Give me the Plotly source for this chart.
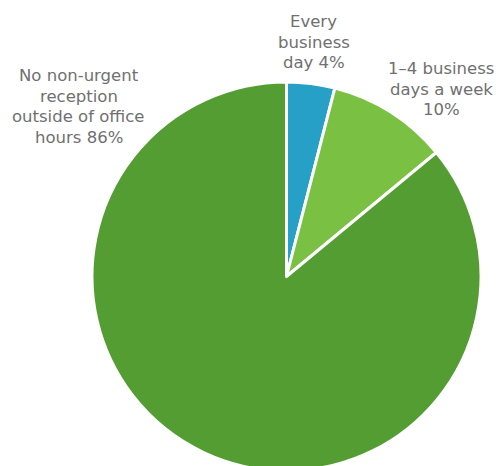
import plotly.graph_objects as go

# Share of practices by frequency of non-urgent reception outside office hours
categories = ["Every business day", "1–4 business days a week", "No non-urgent reception outside of office hours"]
values = [4, 10, 86]
colors = ["#27a0c8", "#7ac143", "#539d32"]

# caption lines per slice ({v} is replaced by the slice value)
caption_lines = [
    ["Every", "business", "day {v}%"],
    ["1–4 business", "days a week", "{v}%"],
    ["No non-urgent", "reception", "outside of office", "hours {v}%"],
]
# caption block centres, in pixels from the top-left of the figure
caption_cx = [313.5, 441, 78.5]
caption_cy = [42.5, 89, 106.5]
LINE_PX = 20.5

W, H = 499, 472

fig = go.Figure(
    go.Pie(
        labels=categories,
        values=values,
        sort=False,
        direction="clockwise",
        rotation=0,
        textinfo="none",
        hoverinfo="label+percent",
        marker=dict(colors=colors, line=dict(color="white", width=3)),
        domain=dict(x=[92 / W, 481 / W], y=[1 - 471 / H, 1 - 82 / H]),
        showlegend=False,
    )
)

for lines, v, cx, cy in zip(caption_lines, values, caption_cx, caption_cy):
    n = len(lines)
    for i, line in enumerate(lines):
        py = cy + (i - (n - 1) / 2) * LINE_PX
        fig.add_annotation(
            x=cx / W, y=1 - py / H, xref="paper", yref="paper",
            text=line.format(v=v),
            showarrow=False,
            xanchor="center", yanchor="middle", align="center",
            font=dict(family="DejaVu Sans", size=16.5, color="#707070"),
        )

fig.update_layout(
    width=W, height=H,
    margin=dict(l=0, r=0, t=0, b=0),
    paper_bgcolor="white",
    plot_bgcolor="white",
)

fig.write_html("out.html")
